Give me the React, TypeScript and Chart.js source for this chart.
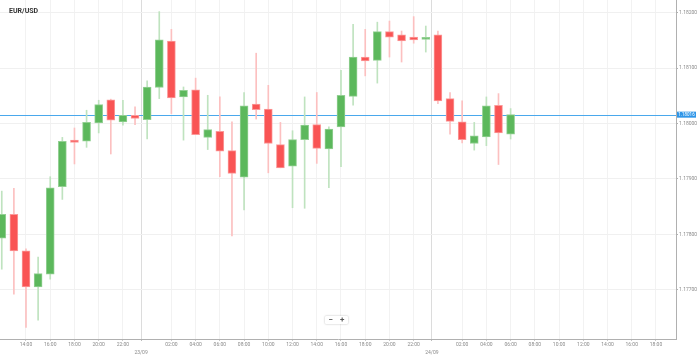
import React, { useEffect, useRef } from 'react';
import { Chart, registerables } from 'chart.js';

Chart.register(...registerables);

// hours counted from 22/09 00:00
const hours = [12, 13, 14, 15, 16, 17, 18, 19, 20, 21, 22, 23, 24, 25, 26, 27, 28, 29, 30, 31, 32, 33, 34, 35, 36, 37, 38, 39, 40, 41, 42, 43, 44, 45, 46, 47, 48, 49, 50, 51, 52, 53, 54];

const opens = [1.17793, 1.17836, 1.17770, 1.17705, 1.17728, 1.17886, 1.17970, 1.17968, 1.18001, 1.18043, 1.18003, 1.18015, 1.18007, 1.18065, 1.18149, 1.18048, 1.18061, 1.17975, 1.17986, 1.17951, 1.17903, 1.18035, 1.18026, 1.17962, 1.17923, 1.17971, 1.17998, 1.17954, 1.17994, 1.18049, 1.18120, 1.18114, 1.18166, 1.18160, 1.18156, 1.18152, 1.18160, 1.18045, 1.18003, 1.17964, 1.17976, 1.18033, 1.17981];

const highs = [1.17878, 1.17883, 1.17774, 1.17759, 1.17904, 1.17975, 1.17992, 1.18024, 1.18042, 1.18044, 1.18042, 1.18030, 1.18077, 1.18202, 1.18170, 1.18066, 1.18082, 1.18051, 1.18048, 1.18003, 1.18056, 1.18127, 1.18069, 1.18002, 1.17987, 1.18048, 1.18056, 1.17994, 1.18096, 1.18179, 1.18170, 1.18183, 1.18185, 1.18167, 1.18193, 1.18176, 1.18167, 1.18056, 1.18041, 1.18002, 1.18048, 1.18054, 1.18027];

const lows = [1.17737, 1.17692, 1.17632, 1.17645, 1.17719, 1.17863, 1.17927, 1.17957, 1.17983, 1.17945, 1.17997, 1.17998, 1.17972, 1.18045, 1.18018, 1.17970, 1.17980, 1.17953, 1.17904, 1.17797, 1.17844, 1.18008, 1.17911, 1.17920, 1.17848, 1.17847, 1.17928, 1.17884, 1.17922, 1.18033, 1.18086, 1.18073, 1.18120, 1.18111, 1.18145, 1.18129, 1.18036, 1.17981, 1.17965, 1.17952, 1.17960, 1.17926, 1.17972];

const closes = [1.17836, 1.17770, 1.17705, 1.17729, 1.17884, 1.17968, 1.17966, 1.18002, 1.18034, 1.18006, 1.18015, 1.18009, 1.18066, 1.18151, 1.18046, 1.18060, 1.17980, 1.17989, 1.17950, 1.17910, 1.18032, 1.18025, 1.17964, 1.17920, 1.17971, 1.17997, 1.17955, 1.17990, 1.18051, 1.18120, 1.18113, 1.18166, 1.18156, 1.18149, 1.18151, 1.18155, 1.18041, 1.18004, 1.17971, 1.17978, 1.18032, 1.17983, 1.18016];

const yTicks = [1.177, 1.178, 1.179, 1.18, 1.181, 1.182];
const hourTicks = [14, 16, 18, 20, 22, 26, 28, 30, 32, 34, 36, 38, 40, 42, 44, 46, 50, 52, 54, 56, 58, 60, 62, 64, 66];
const dateTicks = [23.5, 47.5];
const dateLabels = ['23/09', '24/09'];
const title = 'EUR/USD';
const currentPrice = closes[closes.length - 1];

const X_MIN = 11.854;
const X_MAX = 67.652;
const Y_MIN = 1.17611;
const Y_MAX = 1.18223;

const GREEN = '#5cb85c';
const GREEN_EDGE = '#93d093';
const GREEN_WICK = '#bfe3bf';
const RED = '#f95454';
const RED_EDGE = '#fb9a9a';
const RED_WICK = '#fcc0c0';
const FONT = 'Roboto, "Liberation Sans", Arial, sans-serif';

const up = (i: number) => closes[i] >= opens[i];

const overlayPlugin = {
  id: 'overlay',
  beforeDatasetsDraw(chart: any) {
    const { ctx, chartArea, scales } = chart;
    const y = Math.round(scales.y.getPixelForValue(currentPrice)) + 0.5;
    ctx.save();
    ctx.strokeStyle = '#4aa8ec';
    ctx.lineWidth = 1;
    ctx.beginPath();
    ctx.moveTo(chartArea.left, y);
    ctx.lineTo(chartArea.right, y);
    ctx.stroke();
    ctx.restore();
  },
  afterDraw(chart: any) {
    const { ctx, chartArea, scales } = chart;
    const y = scales.y.getPixelForValue(currentPrice);
    ctx.save();
    ctx.fillStyle = '#2f96e8';
    ctx.fillRect(chartArea.right + 1, y - 3, 19, 6);
    ctx.fillStyle = '#ffffff';
    ctx.font = '4.5px ' + FONT;
    ctx.textAlign = 'center';
    ctx.textBaseline = 'middle';
    ctx.fillText(currentPrice.toFixed(5), chartArea.right + 10.5, y + 0.3);

    ctx.fillStyle = '#333333';
    ctx.font = 'bold 7px ' + FONT;
    ctx.textAlign = 'left';
    ctx.textBaseline = 'middle';
    ctx.fillText(title, 9, 11);
    ctx.restore();
  },
};

export default function App() {
  const ref = useRef<HTMLCanvasElement | null>(null);

  useEffect(() => {
    if (!ref.current) return;
    const chart = new Chart(ref.current, {
      type: 'bar',
      data: {
        datasets: [
          {
            label: 'body',
            order: 0,
            grouped: false,
            data: hours.map((h, i) => ({ x: h, y: [opens[i], closes[i]] })) as any,
            backgroundColor: hours.map((_, i) => (up(i) ? GREEN : RED)),
            borderColor: hours.map((_, i) => (up(i) ? GREEN_EDGE : RED_EDGE)),
            borderWidth: 1,
            borderSkipped: false,
            barThickness: 8,
            minBarLength: 2,
          } as any,
          {
            label: 'wick',
            order: 1,
            grouped: false,
            data: hours.map((h, i) => ({ x: h, y: [lows[i], highs[i]] })) as any,
            backgroundColor: hours.map((_, i) => (up(i) ? GREEN_WICK : RED_WICK)),
            borderWidth: 0,
            barThickness: 1,
          } as any,
        ],
      },
      options: {
        animation: false,
        responsive: false,
        devicePixelRatio: 1,
        layout: { padding: 0 },
        plugins: {
          legend: { display: false },
          tooltip: { enabled: false },
          title: { display: false },
        },
        scales: {
          x: {
            type: 'linear',
            position: 'bottom',
            min: X_MIN,
            max: X_MAX,
            offset: false,
            afterBuildTicks: (s: any) => {
              s.ticks = [...hourTicks, ...dateTicks].sort((a, b) => a - b).map((v) => ({ value: v }));
            },
            afterFit: (s: any) => {
              s.height = 18;
              s.paddingLeft = 0;
              s.paddingRight = 0;
            },
            grid: {
              offset: false,
              color: (c: any) => (c.tick && dateTicks.includes(c.tick.value) ? '#dcdcdc' : '#f2f2f2'),
              tickColor: (c: any) => (c.tick && dateTicks.includes(c.tick.value) ? '#bbbbbb' : '#c8c8c8'),
              tickLength: 2,
            },
            border: { color: '#b0b0b0', width: 1 },
            ticks: {
              autoSkip: false,
              maxRotation: 0,
              minRotation: 0,
              padding: 0,
              color: '#8a8a8a',
              font: { size: 5, family: FONT, lineHeight: 1.6 },
              callback: (v: any) => {
                const di = dateTicks.indexOf(Number(v));
                if (di >= 0) return ['', dateLabels[di]];
                const hh = Number(v) % 24;
                return (hh < 10 ? '0' : '') + hh + ':00';
              },
            },
          },
          y: {
            type: 'linear',
            position: 'right',
            min: Y_MIN,
            max: Y_MAX,
            beginAtZero: false,
            afterBuildTicks: (s: any) => {
              s.ticks = yTicks.map((v) => ({ value: v }));
            },
            afterFit: (s: any) => {
              s.width = 23;
              s.paddingTop = 0;
              s.paddingBottom = 0;
            },
            grid: {
              color: '#f0f0f0',
              tickColor: '#b0b0b0',
              tickLength: 2,
            },
            border: { color: '#b0b0b0', width: 1 },
            ticks: {
              padding: 1,
              color: '#8a8a8a',
              font: { size: 5, family: FONT },
              callback: (v: any) => Number(v).toFixed(5),
            },
          },
        },
      },
      plugins: [overlayPlugin],
    } as any);
    return () => chart.destroy();
  }, []);

  return (
    <div style={{ position: 'absolute', left: 0, top: 0, width: 699, height: 357, background: '#ffffff' }}>
      <canvas ref={ref} width={699} height={357} style={{ display: 'block', width: 699, height: 357 }} />
      <div
        style={{
          position: 'absolute',
          left: 325,
          top: 316,
          width: 23,
          height: 8,
          background: '#ffffff',
          boxShadow: '0 0 2px rgba(0,0,0,0.3)',
          borderRadius: 1,
          display: 'flex',
          justifyContent: 'space-around',
          alignItems: 'center',
          fontFamily: FONT,
          fontSize: 8,
          lineHeight: '8px',
          color: '#555555',
          fontWeight: 'bold',
        }}
      >
        <span>−</span>
        <span>+</span>
      </div>
    </div>
  );
}
